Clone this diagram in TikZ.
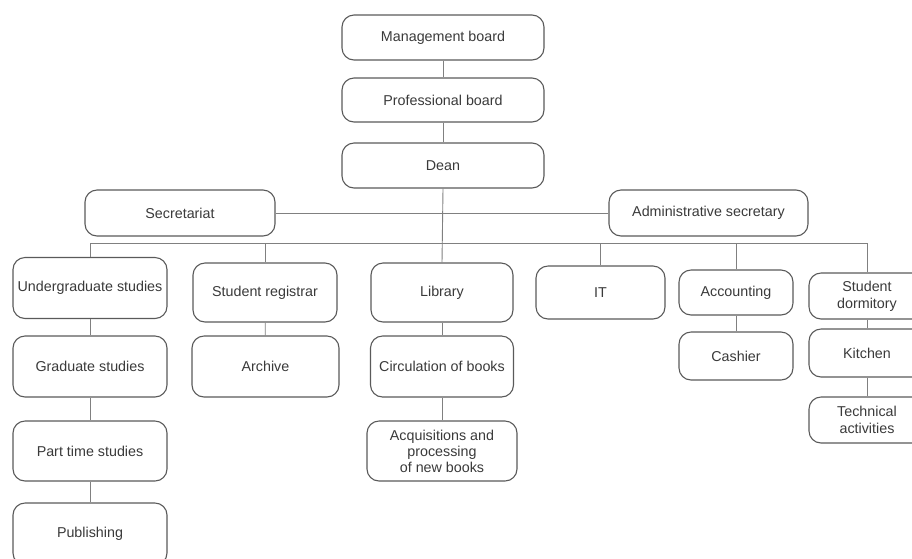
\documentclass[tikz,border=0pt]{standalone}
\usepackage{fontspec}
\setmainfont{Liberation Sans}
\definecolor{txt}{HTML}{3A3A3A}
\definecolor{edge}{HTML}{5A5A5A}
\definecolor{conn}{HTML}{808080}
\begin{document}
\begin{tikzpicture}[x=1pt,y=-1pt,
  box/.style={draw=edge, line width=1.1pt, rounded corners=12pt, fill=white,
    text=txt, font=\fontsize{14.3}{16}\selectfont, align=center, inner sep=0pt},
  conline/.style={draw=conn, line width=0.9pt}]
\useasboundingbox (0,0) rectangle (912,558);
\clip (0,0) rectangle (912,558);
% nodes
\node[box, minimum width=202pt, minimum height=45pt] (mb) at (443,37.5) {Management board};
\node[box, minimum width=202pt, minimum height=44pt] (pb) at (443,100) {Professional board};
\node[box, minimum width=202pt, minimum height=45pt] (dean) at (443,165.5) {Dean};
\node[box, minimum width=190pt, minimum height=46pt] (sec) at (180,213) {Secretariat};
\node[box, minimum width=199pt, minimum height=46pt] (adm) at (708.5,213) {Administrative secretary};
\node[box, minimum width=154pt, minimum height=61pt] (ug) at (90,288) {Undergraduate studies};
\node[box, minimum width=154pt, minimum height=61pt] (grad) at (90,366.5) {Graduate studies};
\node[box, minimum width=154pt, minimum height=60pt] (pt) at (90,451) {Part time studies};
\node[box, minimum width=154pt, minimum height=62pt] (pub) at (90,534) {Publishing};
\node[box, minimum width=144pt, minimum height=59pt] (reg) at (265,292.5) {Student registrar};
\node[box, minimum width=147pt, minimum height=61pt] (arch) at (265.5,366.5) {Archive};
\node[box, minimum width=142pt, minimum height=59pt] (lib) at (442,292.5) {Library};
\node[box, minimum width=143pt, minimum height=61pt] (circ) at (442,366.5) {Circulation of books};
\node[box, minimum width=150pt, minimum height=60pt] (acq) at (442,451) {Acquisitions and\\processing\\of new books};
\node[box, minimum width=129pt, minimum height=53pt] (it) at (600.5,292.5) {IT};
\node[box, minimum width=114pt, minimum height=45pt] (acc) at (736,292.5) {Accounting};
\node[box, minimum width=114pt, minimum height=48pt] (cash) at (736,356) {Cashier};
\node[box, minimum width=116pt, minimum height=46pt] (dorm) at (867,296) {Student\\[1pt]dormitory};
\node[box, minimum width=116pt, minimum height=48pt] (kit) at (867,353) {Kitchen};
\node[box, minimum width=116pt, minimum height=46pt] (tech) at (867,420) {Technical\\[1pt]activities};
% bus coordinates
\coordinate (busL) at (90,243);
\coordinate (busR) at (867,243);
\coordinate (busReg) at (265,243);
\coordinate (busIT) at (600.5,243);
\coordinate (busAcc) at (736,243);
% connectors
\draw[conline] (mb) -- (pb);
\draw[conline] (pb) -- (dean);
\draw[conline] (dean.south) -- (lib.north);
\draw[conline] (sec.east) -- (adm.west);
\draw[conline] (busL) -- (busR);
\draw[conline] (busL) -- (ug.north);
\draw[conline] (busReg) -- (reg.north);
\draw[conline] (busIT) -- (it.north);
\draw[conline] (busAcc) -- (acc.north);
\draw[conline] (busR) -- (dorm.north);
\draw[conline] (ug) -- (grad);
\draw[conline] (grad) -- (pt);
\draw[conline] (pt) -- (pub);
\draw[conline] (reg) -- (arch);
\draw[conline] (lib) -- (circ);
\draw[conline] (circ) -- (acq);
\draw[conline] (acc) -- (cash);
\draw[conline] (dorm) -- (kit);
\draw[conline] (kit) -- (tech);
\end{tikzpicture}
\end{document}
